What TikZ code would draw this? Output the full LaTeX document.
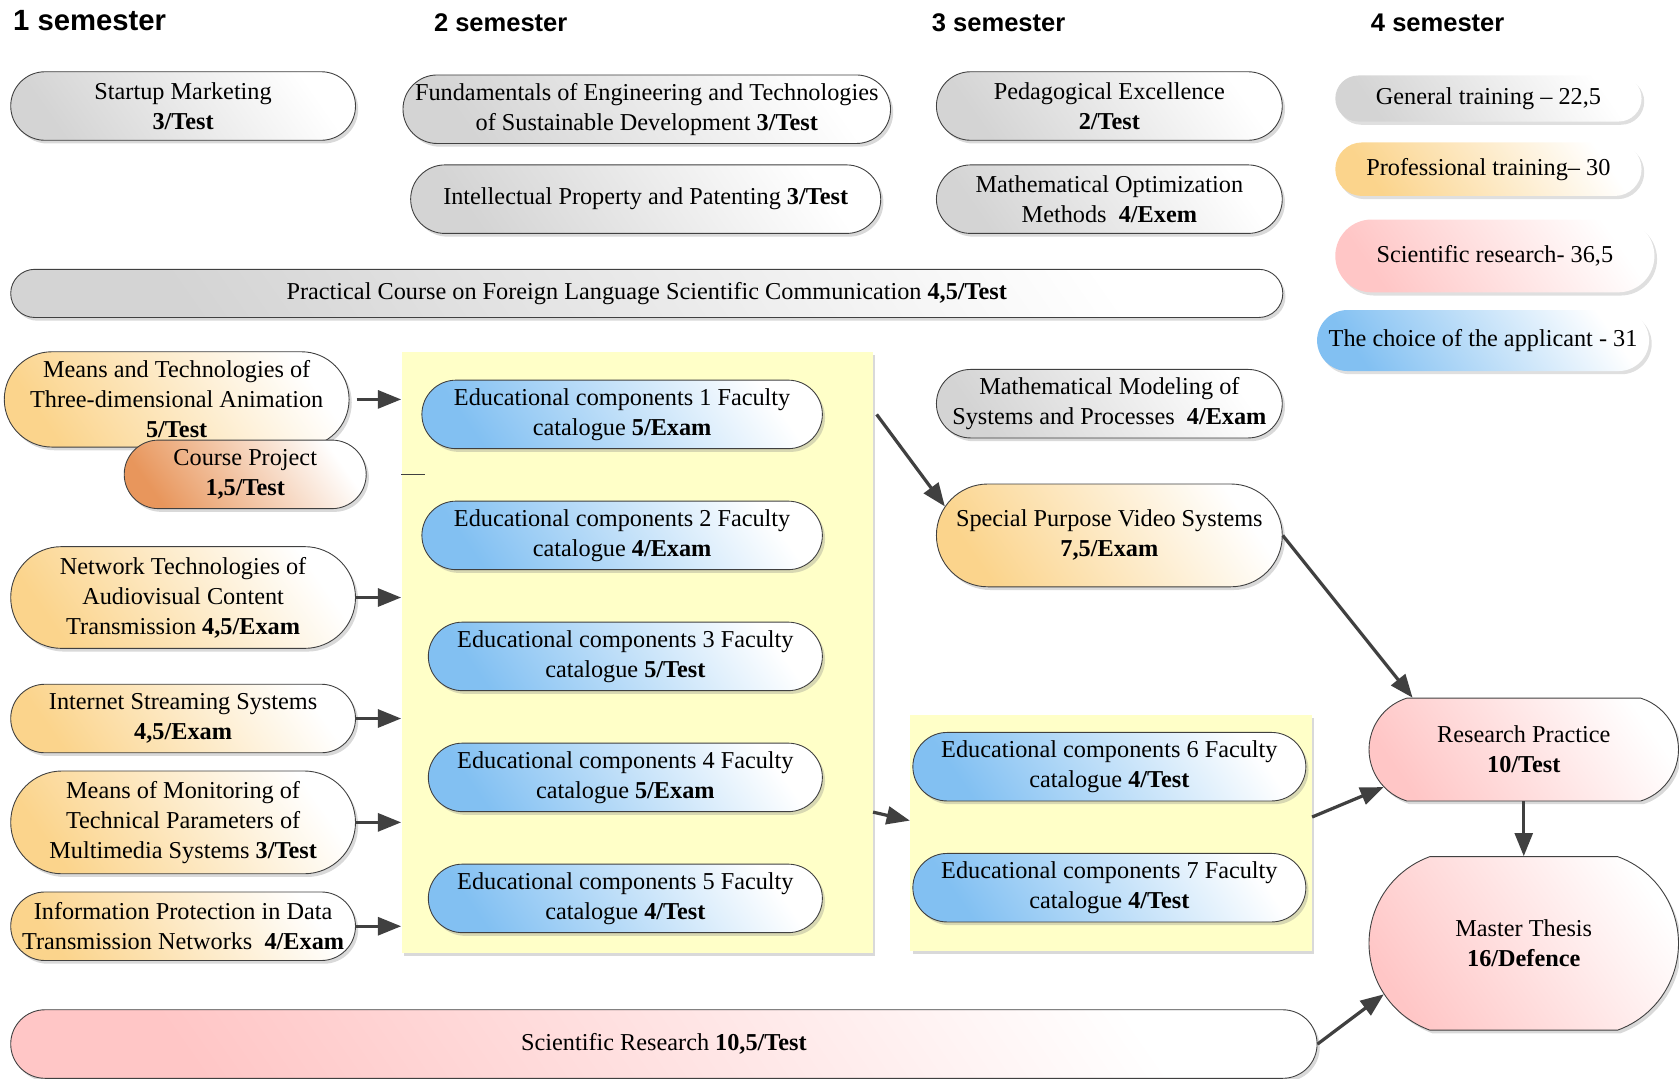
\documentclass[tikz,border=0pt]{standalone}
\usepackage{fontspec}
\setmainfont{Liberation Serif}
\newfontfamily\headfont{Liberation Sans}
\usetikzlibrary{shapes.misc,shadows,arrows.meta}

\definecolor{grayc}{RGB}{212,212,212}
\definecolor{orangec}{RGB}{251,212,140}
\definecolor{brownc}{RGB}{232,150,92}
\definecolor{bluec}{RGB}{130,192,242}
\definecolor{pinkc}{RGB}{255,198,198}
\definecolor{catc}{RGB}{255,255,200}
\definecolor{arrc}{RGB}{64,64,64}

\tikzset{
  sz/.style 2 args={minimum width=#1*0.6pt, minimum height=#2*0.6pt},
  subj/.style={rounded rectangle, draw=black!75, line width=0.5pt, align=center, inner sep=0pt,
    drop shadow={shadow xshift=1.5pt, shadow yshift=-1.8pt, opacity=0.3}},
  grad/.style={top color=#1, bottom color=white, shading angle=125},
  legend/.style={rounded rectangle, align=center, inner sep=0pt,
    drop shadow={shadow xshift=1.5pt, shadow yshift=-1.8pt, opacity=0.25}},
  catbox/.style={fill=catc, inner sep=0pt,
    drop shadow={shadow xshift=1.5pt, shadow yshift=-1.5pt, opacity=0.3}},
  sem/.style={anchor=west, inner sep=0pt, font=\headfont\bfseries\fontsize{#1}{20}\selectfont},
  arr/.style={draw=arrc, line width=1.8pt, -{Triangle[length=13pt,width=10pt]}}
}

\begin{document}
\begin{tikzpicture}[x=0.6pt, y=-0.6pt, font=\fontsize{13.6}{16.8}\selectfont]
\useasboundingbox (0,0) rectangle (1568,1007);

\node[sem=16.4] (s1) at (12,19) {1 semester};
\node[sem=14.3] (s2) at (405,21) {2 semester};
\node[sem=14.3] (s3) at (870,21) {3 semester};
\node[sem=14.3] (s4) at (1280,21) {4 semester};

% general training
\node[subj, grad=grayc, sz={322}{64}] (sm) at (171,99) {Startup Marketing\\\textbf{3/Test}};
\node[subj, grad=grayc, sz={452}{64}] (fund) at (604,102) {Fundamentals of Engineering and Technologies\\of Sustainable Development \textbf{3/Test}};
\node[subj, grad=grayc, sz={323}{64}] (ped) at (1036,99) {Pedagogical Excellence\\\textbf{2/Test}};
\node[subj, grad=grayc, sz={439}{64}] (ipp) at (603,186) {Intellectual Property and Patenting \textbf{3/Test}};
\node[subj, grad=grayc, sz={323}{64}] (mom) at (1036,186) {Mathematical Optimization\\Methods\ \ \textbf{4/Exem}};
\node[subj, grad=grayc, sz={1188}{45}] (pcf) at (604,274) {Practical Course on Foreign Language Scientific Communication \textbf{4,5/Test}};
\node[subj, grad=grayc, sz={323}{64}] (mmsp) at (1036,377) {Mathematical Modeling of\\Systems and Processes\ \ \textbf{4/Exam}};

% legend
\node[legend, grad=grayc, sz={286}{43}] (lg1) at (1390,92) {General training -- 22,5};
\node[legend, grad=orangec, sz={286}{50}] (lg2) at (1390,158) {Professional training-- 30};
\node[legend, grad=pinkc, sz={298}{68}] (lg3) at (1396,239) {Scientific research- 36,5};
\node[legend, grad=bluec, sz={310}{57}] (lg4) at (1385,318) {The choice of the applicant - 31};

% faculty catalogues
\node[catbox, sz={440}{561}] (cat1) at (595,609.5) {};
\node[catbox, sz={375}{220}] (cat2) at (1037.5,778) {};
\node[subj, grad=bluec, sz={374}{64}] (edu1) at (581,387) {Educational components 1 Faculty\\catalogue \textbf{5/Exam}};
\node[subj, grad=bluec, sz={374}{64}] (edu2) at (581,500) {Educational components 2 Faculty\\catalogue \textbf{4/Exam}};
\node[subj, grad=bluec, sz={368}{64}] (edu3) at (584,613) {Educational components 3 Faculty\\catalogue \textbf{5/Test}};
\node[subj, grad=bluec, sz={368}{64}] (edu4) at (584,726) {Educational components 4 Faculty\\catalogue \textbf{5/Exam}};
\node[subj, grad=bluec, sz={368}{64}] (edu5) at (584,839) {Educational components 5 Faculty\\catalogue \textbf{4/Test}};
\node[subj, grad=bluec, sz={367}{64}] (edu6) at (1036,716) {Educational components 6 Faculty\\catalogue \textbf{4/Test}};
\node[subj, grad=bluec, sz={367}{64}] (edu7) at (1036,829) {Educational components 7 Faculty\\catalogue \textbf{4/Test}};

% professional training
\node[subj, grad=orangec, sz={322}{89}] (mta) at (165,373) {Means and Technologies of\\Three-dimensional Animation\\\textbf{5/Test}};
\node[subj, grad=brownc, sz={226}{64}] (cp) at (229,443) {Course Project\\\textbf{1,5/Test}};
\node[subj, grad=orangec, sz={322}{95}] (ntac) at (171,558) {Network Technologies of\\Audiovisual Content\\Transmission \textbf{4,5/Exam}};
\node[subj, grad=orangec, sz={322}{64}] (iss) at (171,671) {Internet Streaming Systems\\\textbf{4,5/Exam}};
\node[subj, grad=orangec, sz={322}{96}] (mmtp) at (171,768) {Means of Monitoring of\\Technical Parameters of\\Multimedia Systems \textbf{3/Test}};
\node[subj, grad=orangec, sz={322}{64}] (ipdt) at (171,865) {Information Protection in Data\\Transmission Networks\ \ \textbf{4/Exam}};
\node[subj, grad=orangec, sz={323}{96}] (spv) at (1036,500) {Special Purpose Video Systems\\\textbf{7,5/Exam}};

% scientific research
\node[subj, grad=pinkc, sz={289}{96}, rounded rectangle arc length=145] (rp) at (1423,700) {Research Practice\\\textbf{10/Test}};
\node[subj, grad=pinkc, sz={289}{162}, rounded rectangle arc length=140] (mt) at (1423,881) {Master Thesis\\\textbf{16/Defence}};
\node[subj, grad=pinkc, sz={1220}{64}] (sr) at (620,975) {Scientific Research \textbf{10,5/Test}};

\draw[black!75] (cat1.west |- cp.east) -- ++(22,0);
\draw[arr] ([xshift=4pt]mta.east) -- (cat1.west |- mta.east);
\draw[arr] (ntac.east) -- (cat1.west |- ntac.east);
\draw[arr] (iss.east) -- (cat1.west |- iss.east);
\draw[arr] (mmtp.east) -- (cat1.west |- mmtp.east);
\draw[arr] (ipdt.east) -- (cat1.west |- ipdt.east);
\draw[arr] ([xshift=2pt]cat1.east |- edu1.east) -- (spv.170);
\draw[arr] (cat1.east |- edu4.south) -- ([yshift=7pt]cat2.west);
\draw[arr] ([yshift=9pt]cat2.east) -- (rp.195);
\draw[arr] (spv.east) -- (rp.155);
\draw[arr] (rp.south) -- (mt.north);
\draw[arr] (sr.east) -- (mt.200);
\end{tikzpicture}
\end{document}
